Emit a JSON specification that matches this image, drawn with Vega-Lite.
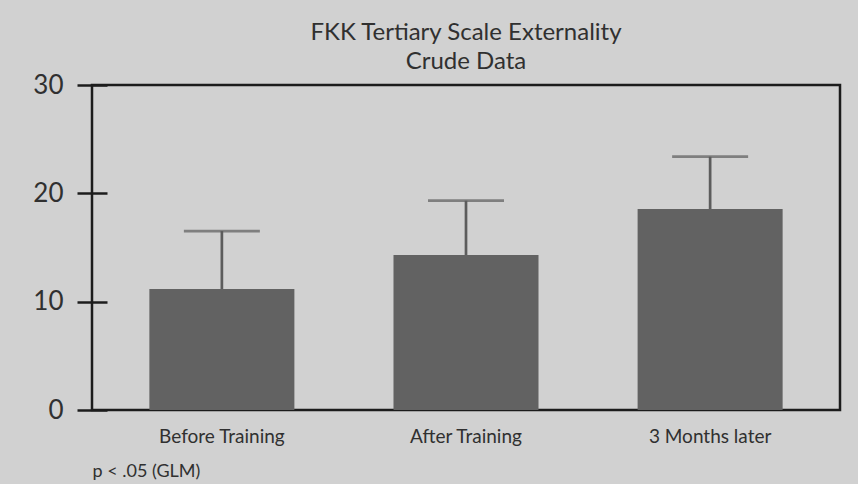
{
  "$schema": "https://vega.github.io/schema/vega-lite/v6.json",
  "width": 748,
  "height": 325,
  "autosize": {"type": "none"},
  "padding": {"left": 92, "top": 85, "right": 18, "bottom": 74},
  "background": "#d1d1d1",
  "config": {
    "view": {"stroke": "#1c1c1c", "strokeWidth": 2.5},
    "font": "Lato"
  },
  "title": {
    "text": ["FKK Tertiary Scale Externality", "Crude Data"],
    "fontSize": 24,
    "fontWeight": "normal",
    "color": "#303030",
    "lineHeight": 29,
    "offset": -2,
    "anchor": "middle"
  },
  "data": {
    "values": [
      {"phase": "Before Training", "mean": 11.17, "upper": 16.52},
      {"phase": "After Training", "mean": 14.31, "upper": 19.32},
      {"phase": "3 Months later", "mean": 18.55, "upper": 23.38}
    ]
  },
  "encoding": {
    "x": {
      "field": "phase",
      "type": "nominal",
      "sort": null,
      "scale": {"paddingInner": 0.406, "paddingOuter": 0.235},
      "axis": {
        "title": "p <  .05 (GLM)",
        "labelAngle": 0,
        "ticks": false,
        "domain": false,
        "labelPadding": 17,
        "labelFontSize": 19,
        "labelColor": "#303030",
        "titleAnchor": "start",
        "titleAlign": "left",
        "titleFontSize": 18,
        "titleFontWeight": "normal",
        "titleColor": "#303030",
        "titlePadding": 16
      }
    }
  },
  "layer": [
    {
      "mark": {"type": "rule", "color": "#5c5c5c", "strokeWidth": 2.7},
      "encoding": {
        "y": {
          "field": "mean",
          "type": "quantitative",
          "scale": {"domain": [0, 30], "nice": false},
          "axis": {
            "title": null,
            "values": [0, 10, 20, 30],
            "grid": false,
            "domain": false,
            "offset": -15,
            "tickSize": 30,
            "tickWidth": 2.5,
            "tickColor": "#1c1c1c",
            "labelPadding": 14,
            "labelFontSize": 26,
            "labelColor": "#303030"
          }
        },
        "y2": {"field": "upper"}
      }
    },
    {
      "mark": {"type": "tick", "color": "#5c5c5c", "thickness": 2.7, "size": 76},
      "encoding": {"y": {"field": "upper", "type": "quantitative", "title": null}}
    },
    {
      "mark": {"type": "bar", "color": "#626262"},
      "encoding": {"y": {"field": "mean", "type": "quantitative", "title": null}}
    }
  ]
}
